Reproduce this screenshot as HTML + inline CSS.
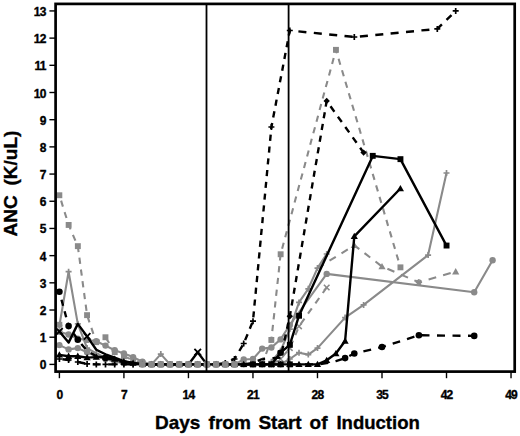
<!DOCTYPE html>
<html><head><meta charset="utf-8"><style>
html,body{margin:0;padding:0;background:#fff;}
svg{display:block;}
text{font-family:"Liberation Sans",sans-serif;font-weight:bold;fill:#000;stroke:#000;stroke-width:0.35px;}
.tk{font-size:12px;letter-spacing:-0.8px;}
.ttl{font-size:19px;}
</style></head><body>
<svg width="520" height="436" viewBox="0 0 520 436">
<rect width="520" height="436" fill="#fff"/>
<defs><clipPath id="pc"><rect x="55.6" y="3.9" width="459.1" height="367.70000000000005"/></clipPath></defs>
<g clip-path="url(#pc)">
<path d="M59.4,331.8 L68.6,334.5 L77.8,338.6 L87.1,339.9 L96.3,341.3 L105.5,345.6 L114.7,350.3 L123.9,353.5 L133.1,357.1 L142.4,361.7 L151.6,364.4 L160.8,364.4 L170.0,364.4 L179.2,364.4 L188.4,364.4 L197.7,364.4 L206.9,364.4 L216.1,364.4 L225.3,364.4 L234.5,364.4 L243.7,359.5 L253.0,359.0 L262.2,348.6 L271.4,347.5 L280.6,339.4 L289.8,325.0 L326.7,273.9 L474.2,292.3 L492.6,260.3" fill="none" stroke="#8a8a8a" stroke-width="2.1" stroke-linejoin="round"/><circle cx="59.4" cy="331.8" r="3.2" fill="#8a8a8a"/><circle cx="68.6" cy="334.5" r="3.2" fill="#8a8a8a"/><circle cx="77.8" cy="338.6" r="3.2" fill="#8a8a8a"/><circle cx="87.1" cy="339.9" r="3.2" fill="#8a8a8a"/><circle cx="96.3" cy="341.3" r="3.2" fill="#8a8a8a"/><circle cx="105.5" cy="345.6" r="3.2" fill="#8a8a8a"/><circle cx="114.7" cy="350.3" r="3.2" fill="#8a8a8a"/><circle cx="123.9" cy="353.5" r="3.2" fill="#8a8a8a"/><circle cx="133.1" cy="357.1" r="3.2" fill="#8a8a8a"/><circle cx="142.4" cy="361.7" r="3.2" fill="#8a8a8a"/><circle cx="151.6" cy="364.4" r="3.2" fill="#8a8a8a"/><circle cx="160.8" cy="364.4" r="3.2" fill="#8a8a8a"/><circle cx="170.0" cy="364.4" r="3.2" fill="#8a8a8a"/><circle cx="179.2" cy="364.4" r="3.2" fill="#8a8a8a"/><circle cx="188.4" cy="364.4" r="3.2" fill="#8a8a8a"/><circle cx="197.7" cy="364.4" r="3.2" fill="#8a8a8a"/><circle cx="206.9" cy="364.4" r="3.2" fill="#8a8a8a"/><circle cx="216.1" cy="364.4" r="3.2" fill="#8a8a8a"/><circle cx="225.3" cy="364.4" r="3.2" fill="#8a8a8a"/><circle cx="234.5" cy="364.4" r="3.2" fill="#8a8a8a"/><circle cx="243.7" cy="359.5" r="3.2" fill="#8a8a8a"/><circle cx="253.0" cy="359.0" r="3.2" fill="#8a8a8a"/><circle cx="262.2" cy="348.6" r="3.2" fill="#8a8a8a"/><circle cx="271.4" cy="347.5" r="3.2" fill="#8a8a8a"/><circle cx="280.6" cy="339.4" r="3.2" fill="#8a8a8a"/><circle cx="289.8" cy="325.0" r="3.2" fill="#8a8a8a"/><circle cx="326.7" cy="273.9" r="3.2" fill="#8a8a8a"/><circle cx="474.2" cy="292.3" r="3.2" fill="#8a8a8a"/><circle cx="492.6" cy="260.3" r="3.2" fill="#8a8a8a"/><path d="M59.4,345.1 L68.6,349.4 L77.8,348.1 L87.1,352.2 L96.3,356.2 L105.5,359.0 L114.7,361.7 L123.9,363.0 L133.1,364.4" fill="none" stroke="#8a8a8a" stroke-width="2.1" stroke-linejoin="round"/><circle cx="59.4" cy="345.1" r="3.2" fill="#8a8a8a"/><circle cx="68.6" cy="349.4" r="3.2" fill="#8a8a8a"/><circle cx="77.8" cy="348.1" r="3.2" fill="#8a8a8a"/><circle cx="87.1" cy="352.2" r="3.2" fill="#8a8a8a"/><circle cx="96.3" cy="356.2" r="3.2" fill="#8a8a8a"/><circle cx="105.5" cy="359.0" r="3.2" fill="#8a8a8a"/><circle cx="114.7" cy="361.7" r="3.2" fill="#8a8a8a"/><circle cx="123.9" cy="363.0" r="3.2" fill="#8a8a8a"/><path d="M61.1,200.6L62.9,206.6M64.6,212.1L66.5,218.0M68.2,223.6L68.6,224.9M68.6,224.9L70.6,229.4M72.9,234.8L75.4,240.6M77.8,246.0L77.8,246.1M77.8,246.1L78.6,252.1M79.4,257.7L80.2,263.8M80.9,269.5L81.8,275.6M82.5,281.2L83.3,287.3M84.1,293.0L84.9,299.1M85.7,304.7L86.5,310.8M87.5,316.4L89.5,322.3M91.4,327.8L93.4,333.8M95.3,339.2L96.3,342.1M96.3,342.1L99.7,340.3M105.6,337.5L109.1,343.0M112.2,348.1L114.7,352.2M114.7,352.2L116.6,353.0M123.1,355.9L123.9,356.2M123.9,356.2L130.0,358.9M136.7,361.4L142.4,363.0M142.4,363.0L144.3,363.3M151.6,364.4L159.7,364.4M167.1,364.4L170.0,364.4M170.0,364.4L175.2,364.4M182.6,364.4L188.4,364.4M188.4,364.4L190.7,364.4M198.1,364.4L206.2,364.4M213.6,364.4L216.1,364.4M216.1,364.4L221.7,364.4M229.1,364.4L234.5,364.4M234.5,364.4L237.2,364.4M244.6,364.4L252.7,364.4M260.1,364.0L262.2,363.9M262.2,363.9L263.9,359.5M266.0,354.0L268.2,348.2M270.3,342.7L271.4,339.9M271.4,339.9L271.7,336.7M272.3,331.1L273.0,324.9M273.6,319.3L274.3,313.2M274.9,307.5L275.5,301.4M276.1,295.8L276.8,289.7M277.4,284.0L278.1,277.9M278.7,272.3L279.3,266.1M279.9,260.5L280.6,254.4M282.1,248.8L283.7,242.8M285.2,237.3L286.8,231.3M288.3,225.7L290.0,219.7M291.5,214.2L293.1,208.2M294.6,202.6L296.2,196.6M297.7,191.0L299.3,185.0M300.8,179.5L302.5,173.5M304.0,167.9L305.6,161.9M307.1,156.4L308.7,150.4M310.2,144.8L311.8,138.8M313.3,133.3L315.0,127.2M316.5,121.7L318.1,115.7M319.6,110.1L321.2,104.1M322.7,98.6L324.3,92.6M325.8,87.0L327.5,81.0M329.0,75.5L330.6,69.5M332.1,63.9L333.7,57.9M335.2,52.4L335.9,49.8M335.9,49.8L336.9,53.3M338.6,58.8L340.3,64.8M342.0,70.3L343.8,76.3M345.4,81.8L347.2,87.8M348.8,93.3L350.6,99.3M352.2,104.8L354.0,110.8M355.6,116.3L357.4,122.3M359.1,127.8L360.8,133.8M362.5,139.4L364.2,145.3M365.9,150.9L367.7,156.9M369.3,162.4L371.1,168.4M372.7,173.9L374.5,179.9M376.1,185.4L377.9,191.4M379.5,196.9L381.3,202.9M383.0,208.4L384.7,214.4M386.4,219.9L388.1,225.9M389.8,231.4L391.6,237.4M393.2,243.0L395.0,248.9M396.6,254.5L398.4,260.4M400.0,266.0L400.4,267.3" fill="none" stroke="#8a8a8a" stroke-width="2.1" stroke-linecap="butt"/><rect x="56.4" y="192.3" width="5.9" height="5.9" fill="#8a8a8a"/><rect x="65.7" y="222.0" width="5.9" height="5.9" fill="#8a8a8a"/><rect x="74.9" y="243.2" width="5.9" height="5.9" fill="#8a8a8a"/><rect x="84.1" y="312.2" width="5.9" height="5.9" fill="#8a8a8a"/><rect x="93.3" y="339.2" width="5.9" height="5.9" fill="#8a8a8a"/><rect x="102.5" y="334.3" width="5.9" height="5.9" fill="#8a8a8a"/><rect x="111.8" y="349.2" width="5.9" height="5.9" fill="#8a8a8a"/><rect x="121.0" y="353.3" width="5.9" height="5.9" fill="#8a8a8a"/><rect x="130.2" y="357.4" width="5.9" height="5.9" fill="#8a8a8a"/><rect x="139.4" y="360.1" width="5.9" height="5.9" fill="#8a8a8a"/><rect x="148.6" y="361.4" width="5.9" height="5.9" fill="#8a8a8a"/><rect x="157.8" y="361.4" width="5.9" height="5.9" fill="#8a8a8a"/><rect x="167.1" y="361.4" width="5.9" height="5.9" fill="#8a8a8a"/><rect x="176.3" y="361.4" width="5.9" height="5.9" fill="#8a8a8a"/><rect x="185.5" y="361.4" width="5.9" height="5.9" fill="#8a8a8a"/><rect x="194.7" y="361.4" width="5.9" height="5.9" fill="#8a8a8a"/><rect x="203.9" y="361.4" width="5.9" height="5.9" fill="#8a8a8a"/><rect x="213.1" y="361.4" width="5.9" height="5.9" fill="#8a8a8a"/><rect x="222.4" y="361.4" width="5.9" height="5.9" fill="#8a8a8a"/><rect x="231.6" y="361.4" width="5.9" height="5.9" fill="#8a8a8a"/><rect x="240.8" y="361.4" width="5.9" height="5.9" fill="#8a8a8a"/><rect x="250.0" y="361.4" width="5.9" height="5.9" fill="#8a8a8a"/><rect x="259.2" y="360.9" width="5.9" height="5.9" fill="#8a8a8a"/><rect x="268.4" y="337.0" width="5.9" height="5.9" fill="#8a8a8a"/><rect x="277.7" y="251.3" width="5.9" height="5.9" fill="#8a8a8a"/><rect x="333.0" y="46.9" width="5.9" height="5.9" fill="#8a8a8a"/><rect x="397.5" y="264.4" width="5.9" height="5.9" fill="#8a8a8a"/><path d="M59.4,325.5 L68.6,271.7 L77.8,323.9 L87.1,348.1 L96.3,353.5 L105.5,357.6 L114.7,361.1 L123.9,363.0 L133.1,364.4 L142.4,364.4 L151.6,364.4 L160.8,354.1 L170.0,364.4 L179.2,364.4 L188.4,364.4 L197.7,364.4 L206.9,364.4 L216.1,364.4 L225.3,364.4 L234.5,364.4 L243.7,364.4 L253.0,364.4 L262.2,364.4 L271.4,364.4 L280.6,364.4 L289.8,359.0 L299.0,352.7 L308.3,354.6 L317.5,348.1 L345.1,317.6 L363.6,304.9 L428.1,255.1 L446.5,173.0" fill="none" stroke="#8a8a8a" stroke-width="2.1" stroke-linejoin="round"/><path d="M56.4,325.5H62.4M59.4,322.5V328.5" stroke="#8a8a8a" stroke-width="1.7"/><path d="M65.6,271.7H71.6M68.6,268.7V274.7" stroke="#8a8a8a" stroke-width="1.7"/><path d="M74.8,323.9H80.8M77.8,320.9V326.9" stroke="#8a8a8a" stroke-width="1.7"/><path d="M84.1,348.1H90.1M87.1,345.1V351.1" stroke="#8a8a8a" stroke-width="1.7"/><path d="M93.3,353.5H99.3M96.3,350.5V356.5" stroke="#8a8a8a" stroke-width="1.7"/><path d="M102.5,357.6H108.5M105.5,354.6V360.6" stroke="#8a8a8a" stroke-width="1.7"/><path d="M111.7,361.1H117.7M114.7,358.1V364.1" stroke="#8a8a8a" stroke-width="1.7"/><path d="M120.9,363.0H126.9M123.9,360.0V366.0" stroke="#8a8a8a" stroke-width="1.7"/><path d="M130.1,364.4H136.1M133.1,361.4V367.4" stroke="#8a8a8a" stroke-width="1.7"/><path d="M139.4,364.4H145.4M142.4,361.4V367.4" stroke="#8a8a8a" stroke-width="1.7"/><path d="M148.6,364.4H154.6M151.6,361.4V367.4" stroke="#8a8a8a" stroke-width="1.7"/><path d="M157.8,354.1H163.8M160.8,351.1V357.1" stroke="#8a8a8a" stroke-width="1.7"/><path d="M167.0,364.4H173.0M170.0,361.4V367.4" stroke="#8a8a8a" stroke-width="1.7"/><path d="M176.2,364.4H182.2M179.2,361.4V367.4" stroke="#8a8a8a" stroke-width="1.7"/><path d="M185.4,364.4H191.4M188.4,361.4V367.4" stroke="#8a8a8a" stroke-width="1.7"/><path d="M194.7,364.4H200.7M197.7,361.4V367.4" stroke="#8a8a8a" stroke-width="1.7"/><path d="M203.9,364.4H209.9M206.9,361.4V367.4" stroke="#8a8a8a" stroke-width="1.7"/><path d="M213.1,364.4H219.1M216.1,361.4V367.4" stroke="#8a8a8a" stroke-width="1.7"/><path d="M222.3,364.4H228.3M225.3,361.4V367.4" stroke="#8a8a8a" stroke-width="1.7"/><path d="M231.5,364.4H237.5M234.5,361.4V367.4" stroke="#8a8a8a" stroke-width="1.7"/><path d="M240.7,364.4H246.7M243.7,361.4V367.4" stroke="#8a8a8a" stroke-width="1.7"/><path d="M250.0,364.4H256.0M253.0,361.4V367.4" stroke="#8a8a8a" stroke-width="1.7"/><path d="M259.2,364.4H265.2M262.2,361.4V367.4" stroke="#8a8a8a" stroke-width="1.7"/><path d="M268.4,364.4H274.4M271.4,361.4V367.4" stroke="#8a8a8a" stroke-width="1.7"/><path d="M277.6,364.4H283.6M280.6,361.4V367.4" stroke="#8a8a8a" stroke-width="1.7"/><path d="M286.8,359.0H292.8M289.8,356.0V362.0" stroke="#8a8a8a" stroke-width="1.7"/><path d="M296.0,352.7H302.0M299.0,349.7V355.7" stroke="#8a8a8a" stroke-width="1.7"/><path d="M305.3,354.6H311.3M308.3,351.6V357.6" stroke="#8a8a8a" stroke-width="1.7"/><path d="M314.5,348.1H320.5M317.5,345.1V351.1" stroke="#8a8a8a" stroke-width="1.7"/><path d="M342.1,317.6H348.1M345.1,314.6V320.6" stroke="#8a8a8a" stroke-width="1.7"/><path d="M360.6,304.9H366.6M363.6,301.9V307.9" stroke="#8a8a8a" stroke-width="1.7"/><path d="M425.1,255.1H431.1M428.1,252.1V258.1" stroke="#8a8a8a" stroke-width="1.7"/><path d="M443.5,173.0H449.5M446.5,170.0V176.0" stroke="#8a8a8a" stroke-width="1.7"/><rect x="56.4" y="321.8" width="5.9" height="5.9" fill="#8a8a8a"/><path d="M271.4,361.7 L280.6,350.8 L289.8,329.1 L299.0,302.4 L308.3,288.8 L317.5,268.1 L326.7,254.0" fill="none" stroke="#8a8a8a" stroke-width="2.1" stroke-linejoin="round"/><path d="M268.4,361.7H274.4M271.4,358.7V364.7" stroke="#8a8a8a" stroke-width="1.7"/><path d="M277.6,350.8H283.6M280.6,347.8V353.8" stroke="#8a8a8a" stroke-width="1.7"/><path d="M286.8,329.1H292.8M289.8,326.1V332.1" stroke="#8a8a8a" stroke-width="1.7"/><path d="M296.0,302.4H302.0M299.0,299.4V305.4" stroke="#8a8a8a" stroke-width="1.7"/><path d="M305.3,288.8H311.3M308.3,285.8V291.8" stroke="#8a8a8a" stroke-width="1.7"/><path d="M314.5,268.1H320.5M317.5,265.1V271.1" stroke="#8a8a8a" stroke-width="1.7"/><path d="M323.7,254.0H329.7M326.7,251.0V257.0" stroke="#8a8a8a" stroke-width="1.7"/><path d="M317.5,268.1L323.7,264.3M329.5,260.7L335.8,256.8M341.5,253.3L347.8,249.4M353.5,245.8L354.3,245.3M354.3,245.3L359.3,249.1M364.5,253.1L370.2,257.5M375.5,261.5L381.1,265.9M387.4,268.8L394.4,271.8M400.9,274.6L408.0,277.6M414.4,280.4L418.9,282.3M418.9,282.3L421.7,281.5M428.6,279.5L436.2,277.3M443.1,275.3L450.7,273.1" fill="none" stroke="#8a8a8a" stroke-width="2.1" stroke-linecap="butt"/><path d="M354.3,241.7L357.9,248.0L350.7,248.0Z" fill="#8a8a8a"/><path d="M382.0,262.9L385.6,269.2L378.4,269.2Z" fill="#8a8a8a"/><path d="M455.7,268.1L459.3,274.4L452.1,274.4Z" fill="#8a8a8a"/><path d="M415.7,282.3H422.1M418.9,279.1V285.5M416.6,280.0L421.1,284.5M416.6,284.5L421.1,280.0" stroke="#8a8a8a" stroke-width="1.5"/><path d="M271.4,364.4L277.8,360.6M282.7,356.5L287.1,351.4M290.5,346.4L293.0,340.6M295.3,335.2L297.8,329.3M300.6,324.1L304.5,318.7M308.0,313.7L311.8,308.3M315.4,303.4L319.2,298.0M322.8,293.0L326.6,287.6" fill="none" stroke="#8a8a8a" stroke-width="2.1" stroke-linecap="butt"/><path d="M268.6,361.6L274.2,367.2M268.6,367.2L274.2,361.6" stroke="#8a8a8a" stroke-width="1.6"/><path d="M277.8,356.2L283.4,361.8M277.8,361.8L283.4,356.2" stroke="#8a8a8a" stroke-width="1.6"/><path d="M287.0,345.3L292.6,350.9M287.0,350.9L292.6,345.3" stroke="#8a8a8a" stroke-width="1.6"/><path d="M296.2,323.5L301.8,329.1M296.2,329.1L301.8,323.5" stroke="#8a8a8a" stroke-width="1.6"/><path d="M323.9,284.7L329.5,290.3M323.9,290.3L329.5,284.7" stroke="#8a8a8a" stroke-width="1.6"/><path d="M59.4,331.5 L68.6,342.6 L77.8,323.9 L87.1,336.4 L96.3,349.7 L105.5,354.3 L114.7,357.6 L123.9,361.1 L133.1,363.0 L142.4,364.4 L151.6,364.4 L160.8,364.4 L170.0,364.4 L179.2,364.4 L188.4,364.4 L197.7,352.2 L206.9,364.4" fill="none" stroke="#000" stroke-width="2.4" stroke-linejoin="round"/><path d="M56.1,328.2L62.7,334.8M56.1,334.8L62.7,328.2" stroke="#000" stroke-width="1.8"/><path d="M83.8,333.1L90.4,339.7M83.8,339.7L90.4,333.1" stroke="#000" stroke-width="1.8"/><path d="M194.4,348.9L201.0,355.5M194.4,355.5L201.0,348.9" stroke="#000" stroke-width="1.8"/><path d="M59.4,354.9 L68.6,356.2 L77.8,356.2 L87.1,357.6 L96.3,357.1 L105.5,356.8 L114.7,359.0 L123.9,361.7 L133.1,363.0 L142.4,364.4 L151.6,364.4 L160.8,364.4 L170.0,364.4 L179.2,364.4 L188.4,364.4 L197.7,364.4 L206.9,364.4 L216.1,364.4 L225.3,364.4 L234.5,364.4 L243.7,364.4 L253.0,364.4 L262.2,364.4 L271.4,364.4 L280.6,364.4 L289.8,364.4 L299.0,364.4 L308.3,364.4 L317.5,364.4 L326.7,360.3 L335.9,353.5 L345.1,341.0 L354.3,236.3 L400.4,188.5" fill="none" stroke="#000" stroke-width="2.4" stroke-linejoin="round"/><path d="M59.4,351.3L63.0,357.6L55.8,357.6Z" fill="#000"/><path d="M68.6,352.6L72.2,358.9L65.0,358.9Z" fill="#000"/><path d="M77.8,352.6L81.4,358.9L74.2,358.9Z" fill="#000"/><path d="M87.1,354.0L90.7,360.3L83.5,360.3Z" fill="#000"/><path d="M96.3,353.5L99.9,359.8L92.7,359.8Z" fill="#000"/><path d="M105.5,353.2L109.1,359.5L101.9,359.5Z" fill="#000"/><path d="M114.7,355.4L118.3,361.7L111.1,361.7Z" fill="#000"/><path d="M123.9,358.1L127.5,364.4L120.3,364.4Z" fill="#000"/><path d="M133.1,359.4L136.7,365.7L129.5,365.7Z" fill="#000"/><path d="M142.4,360.8L146.0,367.1L138.8,367.1Z" fill="#000"/><path d="M151.6,360.8L155.2,367.1L148.0,367.1Z" fill="#000"/><path d="M160.8,360.8L164.4,367.1L157.2,367.1Z" fill="#000"/><path d="M170.0,360.8L173.6,367.1L166.4,367.1Z" fill="#000"/><path d="M179.2,360.8L182.8,367.1L175.6,367.1Z" fill="#000"/><path d="M188.4,360.8L192.0,367.1L184.8,367.1Z" fill="#000"/><path d="M197.7,360.8L201.3,367.1L194.1,367.1Z" fill="#000"/><path d="M206.9,360.8L210.5,367.1L203.3,367.1Z" fill="#000"/><path d="M216.1,360.8L219.7,367.1L212.5,367.1Z" fill="#000"/><path d="M225.3,360.8L228.9,367.1L221.7,367.1Z" fill="#000"/><path d="M234.5,360.8L238.1,367.1L230.9,367.1Z" fill="#000"/><path d="M243.7,360.8L247.3,367.1L240.1,367.1Z" fill="#000"/><path d="M253.0,360.8L256.6,367.1L249.4,367.1Z" fill="#000"/><path d="M262.2,360.8L265.8,367.1L258.6,367.1Z" fill="#000"/><path d="M271.4,360.8L275.0,367.1L267.8,367.1Z" fill="#000"/><path d="M280.6,360.8L284.2,367.1L277.0,367.1Z" fill="#000"/><path d="M289.8,360.8L293.4,367.1L286.2,367.1Z" fill="#000"/><path d="M299.0,360.8L302.6,367.1L295.4,367.1Z" fill="#000"/><path d="M308.3,360.8L311.9,367.1L304.7,367.1Z" fill="#000"/><path d="M317.5,360.8L321.1,367.1L313.9,367.1Z" fill="#000"/><path d="M326.7,356.7L330.3,363.0L323.1,363.0Z" fill="#000"/><path d="M335.9,349.9L339.5,356.2L332.3,356.2Z" fill="#000"/><path d="M345.1,337.4L348.7,343.7L341.5,343.7Z" fill="#000"/><path d="M354.3,232.7L357.9,239.0L350.7,239.0Z" fill="#000"/><path d="M400.4,184.9L404.0,191.2L396.8,191.2Z" fill="#000"/><path d="M234.5,364.4 L243.7,364.4 L253.0,364.4 L262.2,364.4 L271.4,364.4 L280.6,352.7 L289.8,344.8 L299.0,315.7 L372.8,155.9 L400.4,159.1 L446.5,245.6" fill="none" stroke="#000" stroke-width="2.4" stroke-linejoin="round"/><rect x="250.0" y="361.4" width="5.9" height="5.9" fill="#000"/><rect x="259.2" y="361.4" width="5.9" height="5.9" fill="#000"/><rect x="268.4" y="361.4" width="5.9" height="5.9" fill="#000"/><rect x="286.9" y="341.9" width="5.9" height="5.9" fill="#000"/><rect x="296.1" y="312.8" width="5.9" height="5.9" fill="#000"/><rect x="369.8" y="152.9" width="5.9" height="5.9" fill="#000"/><rect x="397.5" y="156.2" width="5.9" height="5.9" fill="#000"/><rect x="443.6" y="242.6" width="5.9" height="5.9" fill="#000"/><circle cx="280.6" cy="352.7" r="3.3" fill="#000"/><rect x="277.7" y="361.4" width="5.9" height="5.9" fill="#000"/><rect x="286.9" y="361.4" width="5.9" height="5.9" fill="#000"/><path d="M59.4,291.8L60.0,294.1M61.5,299.7L63.1,305.7M64.6,311.2L66.2,317.3M67.7,322.8L68.6,326.1M68.6,326.1L70.3,328.6M73.7,333.6L77.4,339.0M81.3,343.9L85.6,349.1M90.8,353.0L96.3,356.2M96.3,356.2L97.4,356.4M104.6,357.7L105.5,357.9M105.5,357.9L112.3,359.7M119.4,361.3L123.9,362.2M123.9,362.2L127.2,362.7M134.5,363.7L142.4,364.4M142.4,364.4L142.5,364.4M150.0,364.4L151.6,364.4M151.6,364.4L158.0,364.4M165.5,364.4L170.0,364.4M170.0,364.4L173.5,364.4M181.0,364.4L188.4,364.4M188.4,364.4L189.0,364.4M196.5,364.4L197.7,364.4M197.7,364.4L204.5,364.4M212.0,364.4L216.1,364.4M216.1,364.4L220.0,364.4M227.5,364.4L234.5,364.4M234.5,364.4L235.5,364.4M243.0,364.4L243.7,364.4M243.7,364.4L251.0,364.4M258.5,364.4L262.2,364.4M262.2,364.4L266.5,364.4M274.0,364.4L280.6,364.4M280.6,364.4L282.0,364.4M289.5,364.4L289.8,364.4M289.8,364.4L297.5,364.4M305.0,364.4L308.3,364.4M308.3,364.4L313.0,364.4M320.4,364.0L326.7,363.0M326.7,363.0L328.3,362.7M335.5,361.2L335.9,361.1M335.9,361.1L342.9,358.9M349.3,356.0L354.3,353.5M354.3,353.5L356.3,353.1M363.4,351.4L371.1,349.6M378.2,347.9L382.0,347.0M382.0,347.0L385.8,345.8M392.7,343.6L400.1,341.3M407.0,339.1L414.4,336.7M421.5,335.3L429.5,335.4M437.0,335.5L445.0,335.6M452.5,335.6L460.5,335.7M468.0,335.8L474.2,335.9" fill="none" stroke="#000" stroke-width="2.4" stroke-linecap="butt"/><circle cx="59.4" cy="291.8" r="3.3" fill="#000"/><circle cx="68.6" cy="326.1" r="3.3" fill="#000"/><circle cx="77.8" cy="339.7" r="3.3" fill="#000"/><circle cx="105.5" cy="357.9" r="3.3" fill="#000"/><circle cx="345.1" cy="358.1" r="3.3" fill="#000"/><circle cx="354.3" cy="353.5" r="3.3" fill="#000"/><circle cx="382.0" cy="347.0" r="3.3" fill="#000"/><circle cx="418.9" cy="335.3" r="3.3" fill="#000"/><circle cx="474.2" cy="335.9" r="3.3" fill="#000"/><path d="M243.7,364.4L251.1,363.3M257.7,360.9L262.2,359.0M262.2,359.0L265.1,358.8M272.5,358.3L280.5,357.6M281.8,352.1L283.2,346.0M284.4,340.5L285.8,334.4M287.0,328.8L288.4,322.8M289.6,317.2L289.8,316.3M289.8,316.3L290.7,311.1M291.7,305.5L292.7,299.4M293.7,293.8L294.7,287.7M295.7,282.1L296.7,276.0M297.7,270.4L298.7,264.3M299.7,258.7L300.7,252.6M301.7,247.0L302.7,240.9M303.7,235.3L304.7,229.2M305.7,223.6L306.7,217.5M307.7,211.9L308.7,205.8M309.7,200.2L310.7,194.1M311.7,188.5L312.7,182.4M313.7,176.8L314.7,170.7M315.7,165.1L316.8,159.0M317.7,153.4L318.8,147.3M319.7,141.7L320.8,135.6M321.7,130.0L322.8,123.9M323.7,118.3L324.8,112.2M325.7,106.6L326.7,100.9M326.7,100.9L327.0,101.3M330.5,106.3L334.4,111.7M337.9,116.7L341.8,122.0M345.3,127.0L349.2,132.4M352.7,137.4L356.6,142.8M360.1,147.8L363.6,152.6" fill="none" stroke="#000" stroke-width="2.4" stroke-linecap="butt"/><path d="M289.8,313.1L293.0,316.3L289.8,319.5L286.6,316.3Z" fill="#000"/><path d="M326.7,97.7L329.9,100.9L326.7,104.1L323.5,100.9Z" fill="#000"/><path d="M363.6,149.4L366.8,152.6L363.6,155.8L360.4,152.6Z" fill="#000"/><path d="M62.4,359.3L68.6,360.0M68.6,360.0L70.4,360.4M77.6,361.9L77.8,362.0M77.8,362.0L85.3,363.5M92.7,364.2L96.3,364.4M96.3,364.4L100.7,364.4M108.2,364.4L114.7,364.4M114.7,364.4L116.2,364.4M123.7,364.4L123.9,364.4M123.9,364.4L131.7,364.4M139.2,364.4L142.4,364.4M142.4,364.4L147.2,364.4M154.7,364.4L160.8,364.4M160.8,364.4L162.7,364.4M170.2,364.4L178.2,364.4M185.7,364.4L188.4,364.4M188.4,364.4L193.7,364.4M201.2,364.4L206.9,364.4M206.9,364.4L209.2,364.4M216.7,364.3L224.6,363.1M231.1,360.5L234.5,359.0M234.5,359.0L236.2,356.1M239.3,351.0L242.6,345.4M245.1,340.1L247.6,334.2M249.8,328.8L252.2,322.9M253.3,317.4L253.9,311.3M254.4,305.6L255.0,299.5M255.6,293.8L256.1,287.7M256.7,282.1L257.3,275.9M257.8,270.3L258.4,264.2M258.9,258.5L259.5,252.4M260.0,246.8L260.6,240.6M261.1,235.0L261.7,228.9M262.3,223.2L262.8,217.1M263.4,211.5L264.0,205.3M264.5,199.7L265.1,193.6M265.6,187.9L266.2,181.8M266.7,176.1L267.3,170.0M267.8,164.4L268.4,158.3M269.0,152.6L269.5,146.5M270.1,140.8L270.7,134.7M271.2,129.1L271.4,127.0M271.4,127.0L272.2,123.0M273.2,117.4L274.4,111.3M275.5,105.7L276.6,99.6M277.7,94.0L278.9,87.9M279.9,82.3L281.1,76.3M282.2,70.7L283.3,64.6M284.4,59.0L285.5,52.9M286.6,47.3L287.8,41.2M288.8,35.6L289.8,30.5M289.8,30.5L291.1,30.6M298.4,31.4L306.4,32.2M313.8,32.9L321.8,33.7M329.2,34.5L337.2,35.3M344.5,36.0L352.5,36.8M359.9,36.5L367.9,35.7M375.3,35.0L383.3,34.2M390.6,33.5L398.6,32.7M406.0,32.0L414.0,31.2M421.4,30.4L429.4,29.7M436.8,28.9L437.3,28.9M437.3,28.9L441.9,24.4M446.5,19.9L451.5,15.1" fill="none" stroke="#000" stroke-width="2.4" stroke-linecap="butt"/><path d="M56.4,359.0H62.4M59.4,356.0V362.0" stroke="#000" stroke-width="1.7"/><path d="M65.6,360.0H71.6M68.6,357.0V363.0" stroke="#000" stroke-width="1.7"/><path d="M74.8,362.0H80.8M77.8,359.0V365.0" stroke="#000" stroke-width="1.7"/><path d="M84.1,363.9H90.1M87.1,360.9V366.9" stroke="#000" stroke-width="1.7"/><path d="M93.3,364.4H99.3M96.3,361.4V367.4" stroke="#000" stroke-width="1.7"/><path d="M102.5,364.4H108.5M105.5,361.4V367.4" stroke="#000" stroke-width="1.7"/><path d="M111.7,364.4H117.7M114.7,361.4V367.4" stroke="#000" stroke-width="1.7"/><path d="M120.9,364.4H126.9M123.9,361.4V367.4" stroke="#000" stroke-width="1.7"/><path d="M130.1,364.4H136.1M133.1,361.4V367.4" stroke="#000" stroke-width="1.7"/><path d="M222.3,363.0H228.3M225.3,360.0V366.0" stroke="#000" stroke-width="1.7"/><path d="M231.5,359.0H237.5M234.5,356.0V362.0" stroke="#000" stroke-width="1.7"/><path d="M240.7,343.5H246.7M243.7,340.5V346.5" stroke="#000" stroke-width="1.7"/><path d="M250.0,321.2H256.0M253.0,318.2V324.2" stroke="#000" stroke-width="1.7"/><path d="M268.4,127.0H274.4M271.4,124.0V130.0" stroke="#000" stroke-width="1.7"/><path d="M286.8,30.5H292.8M289.8,27.5V33.5" stroke="#000" stroke-width="1.7"/><path d="M351.3,37.0H357.3M354.3,34.0V40.0" stroke="#000" stroke-width="1.7"/><path d="M434.3,28.9H440.3M437.3,25.9V31.9" stroke="#000" stroke-width="1.7"/><path d="M452.7,10.9H458.7M455.7,7.9V13.9" stroke="#000" stroke-width="1.7"/><rect x="139.4" y="361.4" width="5.9" height="5.9" fill="#8a8a8a"/><circle cx="142.4" cy="364.4" r="3.2" fill="#8a8a8a"/><rect x="148.6" y="361.4" width="5.9" height="5.9" fill="#8a8a8a"/><circle cx="151.6" cy="364.4" r="3.2" fill="#8a8a8a"/><rect x="157.8" y="361.4" width="5.9" height="5.9" fill="#8a8a8a"/><circle cx="160.8" cy="364.4" r="3.2" fill="#8a8a8a"/><rect x="167.1" y="361.4" width="5.9" height="5.9" fill="#8a8a8a"/><circle cx="170.0" cy="364.4" r="3.2" fill="#8a8a8a"/><rect x="176.3" y="361.4" width="5.9" height="5.9" fill="#8a8a8a"/><circle cx="179.2" cy="364.4" r="3.2" fill="#8a8a8a"/><rect x="185.5" y="361.4" width="5.9" height="5.9" fill="#8a8a8a"/><circle cx="188.4" cy="364.4" r="3.2" fill="#8a8a8a"/><rect x="194.7" y="361.4" width="5.9" height="5.9" fill="#8a8a8a"/><circle cx="197.7" cy="364.4" r="3.2" fill="#8a8a8a"/><rect x="203.9" y="361.4" width="5.9" height="5.9" fill="#8a8a8a"/><circle cx="206.9" cy="364.4" r="3.2" fill="#8a8a8a"/><rect x="213.1" y="361.4" width="5.9" height="5.9" fill="#8a8a8a"/><circle cx="216.1" cy="364.4" r="3.2" fill="#8a8a8a"/><rect x="222.4" y="361.4" width="5.9" height="5.9" fill="#8a8a8a"/><circle cx="225.3" cy="364.4" r="3.2" fill="#8a8a8a"/><rect x="231.6" y="361.4" width="5.9" height="5.9" fill="#8a8a8a"/><circle cx="234.5" cy="364.4" r="3.2" fill="#8a8a8a"/><line x1="206.5" y1="3.9" x2="206.5" y2="371.6" stroke="#000" stroke-width="1.8"/><line x1="288.6" y1="3.9" x2="288.6" y2="371.6" stroke="#000" stroke-width="1.8"/>
</g>
<line x1="49.4" y1="364.40" x2="55.6" y2="364.40" stroke="#000" stroke-width="1.4"/><text x="45.6" y="369.40" class="tk" text-anchor="end">0</text><line x1="49.4" y1="337.21" x2="55.6" y2="337.21" stroke="#000" stroke-width="1.4"/><text x="45.6" y="342.21" class="tk" text-anchor="end">1</text><line x1="49.4" y1="310.02" x2="55.6" y2="310.02" stroke="#000" stroke-width="1.4"/><text x="45.6" y="315.02" class="tk" text-anchor="end">2</text><line x1="49.4" y1="282.83" x2="55.6" y2="282.83" stroke="#000" stroke-width="1.4"/><text x="45.6" y="287.83" class="tk" text-anchor="end">3</text><line x1="49.4" y1="255.64" x2="55.6" y2="255.64" stroke="#000" stroke-width="1.4"/><text x="45.6" y="260.64" class="tk" text-anchor="end">4</text><line x1="49.4" y1="228.45" x2="55.6" y2="228.45" stroke="#000" stroke-width="1.4"/><text x="45.6" y="233.45" class="tk" text-anchor="end">5</text><line x1="49.4" y1="201.26" x2="55.6" y2="201.26" stroke="#000" stroke-width="1.4"/><text x="45.6" y="206.26" class="tk" text-anchor="end">6</text><line x1="49.4" y1="174.07" x2="55.6" y2="174.07" stroke="#000" stroke-width="1.4"/><text x="45.6" y="179.07" class="tk" text-anchor="end">7</text><line x1="49.4" y1="146.88" x2="55.6" y2="146.88" stroke="#000" stroke-width="1.4"/><text x="45.6" y="151.88" class="tk" text-anchor="end">8</text><line x1="49.4" y1="119.69" x2="55.6" y2="119.69" stroke="#000" stroke-width="1.4"/><text x="45.6" y="124.69" class="tk" text-anchor="end">9</text><line x1="49.4" y1="92.50" x2="55.6" y2="92.50" stroke="#000" stroke-width="1.4"/><text x="45.6" y="97.50" class="tk" text-anchor="end">10</text><line x1="49.4" y1="65.31" x2="55.6" y2="65.31" stroke="#000" stroke-width="1.4"/><text x="45.6" y="70.31" class="tk" text-anchor="end">11</text><line x1="49.4" y1="38.12" x2="55.6" y2="38.12" stroke="#000" stroke-width="1.4"/><text x="45.6" y="43.12" class="tk" text-anchor="end">12</text><line x1="49.4" y1="10.93" x2="55.6" y2="10.93" stroke="#000" stroke-width="1.4"/><text x="45.6" y="15.93" class="tk" text-anchor="end">13</text><line x1="59.40" y1="371.6" x2="59.40" y2="378.2" stroke="#000" stroke-width="1.4"/><text x="59.40" y="398.5" class="tk" text-anchor="middle">0</text><line x1="123.92" y1="371.6" x2="123.92" y2="378.2" stroke="#000" stroke-width="1.4"/><text x="123.92" y="398.5" class="tk" text-anchor="middle">7</text><line x1="188.44" y1="371.6" x2="188.44" y2="378.2" stroke="#000" stroke-width="1.4"/><text x="188.44" y="398.5" class="tk" text-anchor="middle">14</text><line x1="252.96" y1="371.6" x2="252.96" y2="378.2" stroke="#000" stroke-width="1.4"/><text x="252.96" y="398.5" class="tk" text-anchor="middle">21</text><line x1="317.48" y1="371.6" x2="317.48" y2="378.2" stroke="#000" stroke-width="1.4"/><text x="317.48" y="398.5" class="tk" text-anchor="middle">28</text><line x1="382.00" y1="371.6" x2="382.00" y2="378.2" stroke="#000" stroke-width="1.4"/><text x="382.00" y="398.5" class="tk" text-anchor="middle">35</text><line x1="446.51" y1="371.6" x2="446.51" y2="378.2" stroke="#000" stroke-width="1.4"/><text x="446.51" y="398.5" class="tk" text-anchor="middle">42</text><line x1="511.03" y1="371.6" x2="511.03" y2="378.2" stroke="#000" stroke-width="1.4"/><text x="511.03" y="398.5" class="tk" text-anchor="middle">49</text>
<rect x="55.6" y="3.9" width="459.1" height="367.70000000000005" fill="none" stroke="#000" stroke-width="2.7"/>
<text class="ttl" x="155" y="429.2">Days</text><text class="ttl" x="208.6" y="429.2">from</text><text class="ttl" x="258.4" y="429.2">Start</text><text class="ttl" x="309.6" y="429.2">of</text><text class="ttl" transform="translate(336.4,429.2) scale(0.977,1)">Induction</text>
<g transform="translate(16.6,0) rotate(-90)"><text class="ttl" x="-236.5" y="0">ANC</text><text class="ttl" x="-185.5" y="0">(K/uL)</text></g>
</svg>
</body></html>
